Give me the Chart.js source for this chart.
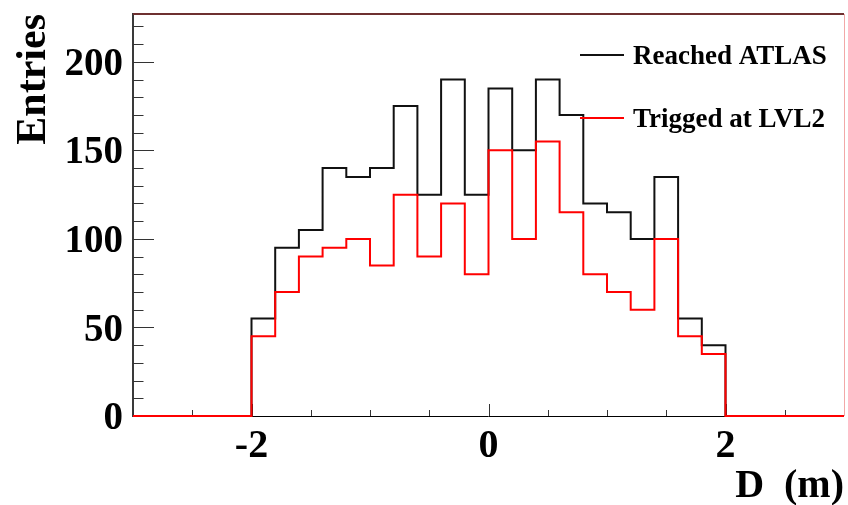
<!DOCTYPE html>
<html>
<head>
<meta charset="utf-8">
<script src="https://cdn.jsdelivr.net/npm/chart.js@4.4.1/dist/chart.umd.min.js"></script>
<style>
  html, body { margin: 0; padding: 0; background: #fff; }
  #hist { display: block; }
</style>
</head>
<body>
<canvas id="hist" width="848" height="505"></canvas>
<script>
// Bin edges of the histogram (m)
const binEdges = [-3.0, -2.8, -2.6, -2.4, -2.2, -2.0, -1.8, -1.6, -1.4, -1.2, -1.0,
                  -0.8, -0.6, -0.4, -0.2, 0.0, 0.2, 0.4, 0.6, 0.8, 1.0,
                  1.2, 1.4, 1.6, 1.8, 2.0, 2.2, 2.4, 2.6, 2.8, 3.0];

// Entries per bin
const reachedAtlas = [0, 0, 0, 0, 0,
                      55, 95, 105, 140, 135, 140, 175, 125, 190, 125,
                      185, 150, 190, 170, 120, 115, 100, 135, 55, 40,
                      0, 0, 0, 0, 0];
const triggedLvl2 = [0, 0, 0, 0, 0,
                     45, 70, 90, 95, 100, 85, 125, 90, 120, 80,
                     150, 100, 155, 115, 80, 70, 60, 100, 45, 35,
                     0, 0, 0, 0, 0];

const seriesLabels = ['Reached ATLAS', 'Trigged at LVL2'];
const seriesColors = ['#111111', '#ff0000'];
const xLabelValues = [-2, 0, 2];
const yLabelValues = [0, 50, 100, 150, 200];

const serif = '"Liberation Serif", "Times New Roman", serif';

// Turn bin contents into a histogram outline (two points per bin)
function outline(values) {
    const pts = [];
    for (let i = 0; i < values.length; i++) {
        pts.push({ x: binEdges[i], y: values[i] });
        pts.push({ x: binEdges[i + 1], y: values[i] });
    }
    return pts;
}

// Frame, axis line and inward-pointing ticks, ROOT style
const frameTicks = {
    id: 'frameTicks',
    beforeDatasetsDraw(chart) {
        const { ctx, chartArea: a, scales } = chart;
        ctx.save();
        // x axis line
        ctx.lineWidth = 1;
        ctx.strokeStyle = '#000';
        ctx.beginPath();
        ctx.moveTo(a.left, a.bottom + 0.5);
        ctx.lineTo(a.right, a.bottom + 0.5);
        ctx.stroke();

        ctx.strokeStyle = '#333';
        scales.y.ticks.forEach(t => {
            const py = Math.round(scales.y.getPixelForValue(t.value)) + 0.5;
            const len = t.value % 50 === 0 ? 21 : 10.5;
            ctx.beginPath();
            ctx.moveTo(a.left, py);
            ctx.lineTo(a.left + len, py);
            ctx.stroke();
        });
        scales.x.ticks.forEach(t => {
            const px = Math.round(scales.x.getPixelForValue(t.value)) + 0.5;
            const len = t.value % 2 === 0 ? 12 : 6;
            ctx.beginPath();
            ctx.moveTo(px, a.bottom);
            ctx.lineTo(px, a.bottom - len);
            ctx.stroke();
        });
        // top and right frame lines
        ctx.lineWidth = 2;
        ctx.strokeStyle = '#6e3030';
        ctx.beginPath();
        ctx.moveTo(a.left, a.top);
        ctx.lineTo(a.right, a.top);
        ctx.stroke();
        ctx.lineWidth = 1;
        ctx.strokeStyle = '#f2a8a8';
        ctx.beginPath();
        ctx.moveTo(a.right + 0.5, a.top);
        ctx.lineTo(a.right + 0.5, a.bottom);
        ctx.stroke();
        ctx.restore();
    }
};

// Legend inside the frame, top right, no box
const innerLegend = {
    id: 'innerLegend',
    afterDatasetsDraw(chart) {
        const ctx = chart.ctx;
        const rows = [55, 118];
        ctx.save();
        ctx.font = 'bold 27px ' + serif;
        ctx.textBaseline = 'middle';
        ctx.textAlign = 'left';
        chart.data.datasets.forEach((ds, i) => {
            ctx.strokeStyle = ds.borderColor;
            ctx.lineWidth = 2;
            ctx.beginPath();
            ctx.moveTo(580, rows[i]);
            ctx.lineTo(624, rows[i]);
            ctx.stroke();
            ctx.fillStyle = '#000';
            ctx.fillText(ds.label, 633, rows[i] + 2);
        });
        ctx.restore();
    }
};

const chart = new Chart(document.getElementById('hist'), {
    type: 'line',
    data: {
        datasets: [{
            label: seriesLabels[0],
            data: outline(reachedAtlas),
            borderColor: seriesColors[0],
            borderWidth: 2,
            pointRadius: 0,
            tension: 0,
            fill: false,
            clip: 2,
            order: 2
        }, {
            label: seriesLabels[1],
            data: outline(triggedLvl2),
            borderColor: seriesColors[1],
            borderWidth: 2,
            pointRadius: 0,
            tension: 0,
            fill: false,
            clip: 2,
            order: 1
        }]
    },
    options: {
        responsive: false,
        animation: false,
        devicePixelRatio: 1,
        layout: { padding: { left: 0, top: 14, right: 4, bottom: 0 } },
        plugins: {
            legend: { display: false },
            tooltip: { enabled: false }
        },
        scales: {
            x: {
                type: 'linear',
                min: -3,
                max: 3,
                grid: { display: false, drawTicks: false },
                border: { display: false },
                ticks: {
                    stepSize: 0.5,
                    autoSkip: false,
                    maxRotation: 0,
                    includeBounds: false,
                    padding: 7,
                    color: '#000',
                    font: { family: serif, size: 40, weight: 'bold', lineHeight: 1.2 },
                    callback: v => xLabelValues.includes(v) ? String(v) : ''
                },
                title: {
                    display: true,
                    text: 'D  (m)',
                    align: 'end',
                    color: '#000',
                    padding: 0,
                    font: { family: serif, size: 40, weight: 'bold', lineHeight: 0.9 }
                },
                afterFit(scale) {
                    scale.height = 89;
                    scale.paddingLeft = 0;
                    scale.paddingRight = 0;
                }
            },
            y: {
                min: 0,
                max: 227,
                grid: { display: false, drawTicks: false },
                border: { display: true, color: '#3a3a3a', width: 2 },
                ticks: {
                    stepSize: 10,
                    autoSkip: false,
                    includeBounds: false,
                    padding: 10,
                    labelOffset: 3,
                    color: '#000',
                    font: { family: serif, size: 39, weight: 'bold' },
                    callback: v => yLabelValues.includes(v) ? String(v) : ''
                },
                title: {
                    display: true,
                    text: 'Entries',
                    align: 'end',
                    color: '#000',
                    padding: { top: 9, bottom: 0 },
                    font: { family: serif, size: 42, weight: 'bold', lineHeight: 1.2 }
                },
                afterFit(scale) {
                    scale.width = 133;
                    scale.paddingTop = 0;
                    scale.paddingBottom = 0;
                }
            }
        }
    },
    plugins: [frameTicks, innerLegend]
});
</script>
</body>
</html>
